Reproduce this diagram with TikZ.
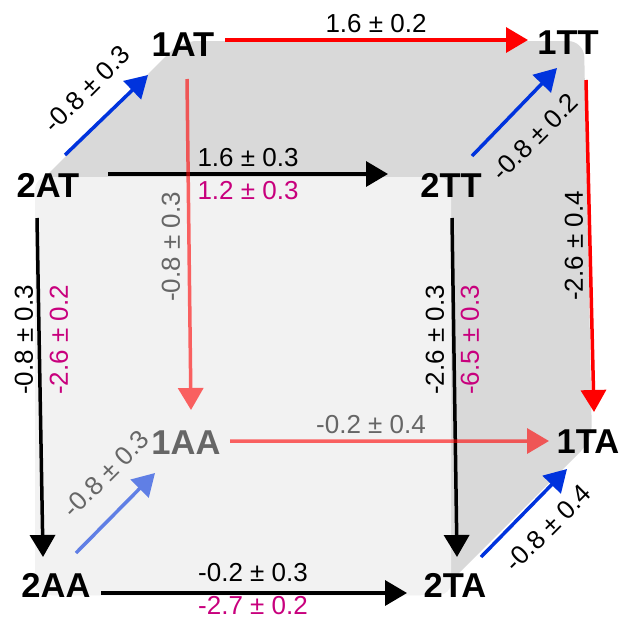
\documentclass[tikz,border=0pt]{standalone}
\usepackage{fontspec}
\setmainfont{Liberation Sans}
\usetikzlibrary{arrows.meta}
\definecolor{cubeside}{HTML}{D9D9D9}
\definecolor{cubefront}{HTML}{F2F2F2}
\definecolor{myblue}{HTML}{0033DD}
\definecolor{mymag}{HTML}{C8007D}
\definecolor{myred}{HTML}{FF0000}
\definecolor{mygray}{HTML}{666666}
\begin{document}
\begin{tikzpicture}[x=1pt,y=-1pt,
  state/.style={font=\fontsize{34.5}{40}\selectfont\bfseries, inner sep=0pt},
  lab/.style={font=\fontsize{26}{30}\selectfont, inner sep=0pt},
  conn/.style={line width=3.5pt, -{Triangle[length=22pt,width=25pt]}},
  redc/.style={conn, myred},
  bluec/.style={conn, myblue},
  blackc/.style={conn, black},
  faded/.style={transparency group, opacity=0.6},
]
\useasboundingbox (0,0) rectangle (619,619);
% cube body
\fill[cubeside, rounded corners=16pt] (35,595) -- (35,187) -- (181,41) -- (584,41) -- (592,440) -- (437,595) -- cycle;
\fill[cubefront, rounded corners=12pt] (35,177) rectangle (451,595);

% state nodes
\node[state] (AT1) at (183,45) {1AT};
\node[state] (TT1) at (568,43) {1TT};
\node[state] (AT2) at (48,185) {2AT};
\node[state] (TT2) at (451,185) {2TT};
\node[state, text=mygray] (AA1) at (186,443) {1AA};
\node[state] (AA2) at (56,585) {2AA};
\node[state] (TA2) at (455,585) {2TA};
\node[state] (TA1) at (588,442) {1TA};

% connectors
\draw[redc] ([shift={(42,-5)}]AT1.center) -- ([shift={(-40,-3)}]TT1.center);
\draw[bluec] ([shift={(17,-30)}]AT2.center) -- ([shift={(-35,30)}]AT1.center);
\draw[blackc] ([shift={(60,-11)}]AT2.center) -- ([shift={(-63,-11)}]TT2.center);
\draw[bluec] ([shift={(21,-29)}]TT2.center) -- ([shift={(-11,25)}]TT1.center);
\draw[redc] ([shift={(18,37)}]TT1.center) -- ([shift={(6,-30)}]TA1.center);
\begin{scope}[faded]
\draw[redc] ([shift={(4,34)}]AT1.center) -- ([shift={(5,-33)}]AA1.center);
\end{scope}
\draw[blackc] ([shift={(-11,33)}]AT2.center) -- ([shift={(-13,-28)}]AA2.center);
\draw[blackc] ([shift={(1,33)}]TT2.center) -- ([shift={(2,-28)}]TA2.center);
\begin{scope}[faded]
\draw[redc] ([shift={(44,-2)}]AA1.center) -- ([shift={(-39,-1)}]TA1.center);
\end{scope}
\begin{scope}[faded]
\draw[bluec] ([shift={(20,-32)}]AA2.center) -- ([shift={(-31,30)}]AA1.center);
\end{scope}
\draw[blackc] ([shift={(45,8)}]AA2.center) -- ([shift={(-48,8)}]TA2.center);
\draw[bluec] ([shift={(26,-28)}]TA2.center) -- ([shift={(-21,27)}]TA1.center);

% labels
\node[lab] (l1) at (376,24) {1.6 ± 0.2};
\node[lab, rotate=45] (l2) at (87,89) {-0.8 ± 0.3};
\node[lab] (l3) at (248,158) {1.6 ± 0.3};
\node[lab, text=mymag] (l4) at (248,191) {1.2 ± 0.3};
\node[lab, rotate=45] (l5) at (535,137) {-0.8 ± 0.2};
\node[lab, rotate=90] (l6) at (574,246) {-2.6 ± 0.4};
\node[lab, rotate=90, text=mygray] (l7) at (171,247) {-0.8 ± 0.3};
\node[lab, rotate=90] (l8) at (24,340) {-0.8 ± 0.3};
\node[lab, rotate=90, text=mymag] (l9) at (59,340) {-2.6 ± 0.2};
\node[lab, rotate=90] (l10) at (435,340) {-2.6 ± 0.3};
\node[lab, rotate=90, text=mymag] (l11) at (470,340) {-6.5 ± 0.3};
\node[lab, text=mygray] (l12) at (371,425) {-0.2 ± 0.4};
\node[lab, rotate=45, text=mygray] (l13) at (106,474) {-0.8 ± 0.3};
\node[lab] (l14) at (253,573) {-0.2 ± 0.3};
\node[lab, text=mymag] (l15) at (253,606) {-2.7 ± 0.2};
\node[lab, rotate=45] (l16) at (548,528) {-0.8 ± 0.4};
\end{tikzpicture}
\end{document}
